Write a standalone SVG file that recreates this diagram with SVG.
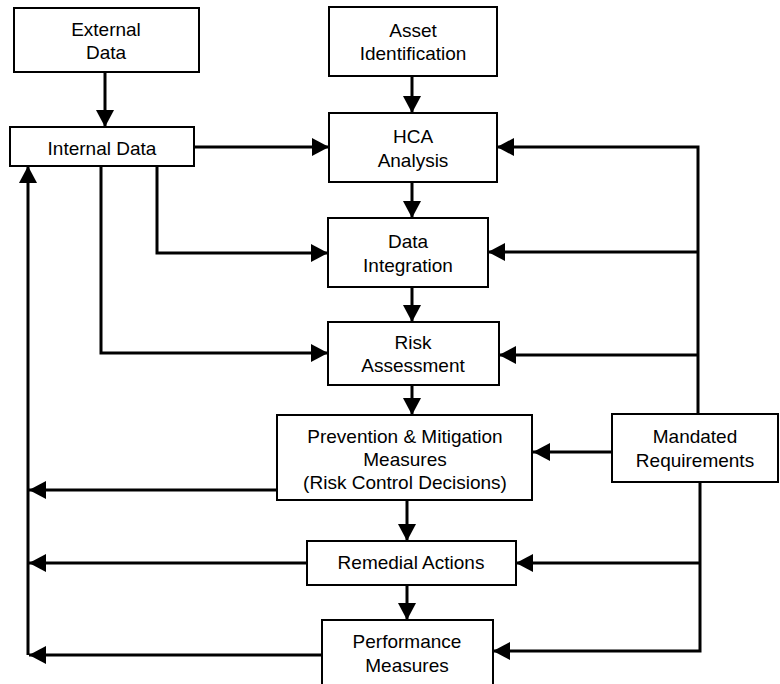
<svg xmlns="http://www.w3.org/2000/svg" width="780" height="684" viewBox="0 0 780 684">
<defs>
<marker id="ah" viewBox="0 0 17 18" refX="17" refY="9" markerWidth="17" markerHeight="18" markerUnits="userSpaceOnUse" orient="auto">
<path d="M0,0 L17,9 L0,18 z" fill="#000"/>
</marker>
<style>
.box{fill:#fff;stroke:#000;stroke-width:2}
.t{font-family:"Liberation Sans",Arial,sans-serif;font-size:19px;fill:#000;text-anchor:middle}
.c{fill:none;stroke:#000;stroke-width:3}
.a{marker-end:url(#ah)}
</style>
</defs>
<rect width="780" height="684" fill="#fff"/>
<g id="connectors">
<path class="c a" d="M105,72 V127"/>
<path class="c a" d="M412,76 V113"/>
<path class="c a" d="M194,147 H329"/>
<path class="c a" d="M412,182 V218"/>
<path class="c a" d="M412,287 V322"/>
<path class="c a" d="M412,385 V415"/>
<path class="c a" d="M407,500 V541"/>
<path class="c a" d="M407,585 V620"/>
<path class="c a" d="M157,166 V253 H328"/>
<path class="c a" d="M101,166 V353 H328"/>
<path class="c a" d="M698,414 V147 H497"/>
<path class="c a" d="M698,252 H488"/>
<path class="c a" d="M698,355 H499"/>
<path class="c a" d="M612,452 H533"/>
<path class="c a" d="M700,482 V651 H493"/>
<path class="c a" d="M700,563 H516"/>
<path class="c a" d="M277,490 H29"/>
<path class="c a" d="M307,563 H29"/>
<path class="c a" d="M322,655 H29"/>
<path class="c a" d="M28,655 V166"/>
</g>
<g id="external-data">
<rect class="box" x="14" y="8" width="185" height="64"/>
<text class="t" x="106" y="36">External</text>
<text class="t" x="106" y="59">Data</text>
</g>
<g id="internal-data">
<rect class="box" x="10" y="127" width="184" height="39"/>
<text class="t" x="102" y="155">Internal Data</text>
</g>
<g id="asset-identification">
<rect class="box" x="329" y="7" width="168" height="69"/>
<text class="t" x="413" y="37">Asset</text>
<text class="t" x="413" y="60">Identification</text>
</g>
<g id="hca-analysis">
<rect class="box" x="329" y="113" width="168" height="69"/>
<text class="t" x="413" y="143">HCA</text>
<text class="t" x="413" y="167">Analysis</text>
</g>
<g id="data-integration">
<rect class="box" x="328" y="218" width="160" height="69"/>
<text class="t" x="408" y="248">Data</text>
<text class="t" x="408" y="272">Integration</text>
</g>
<g id="risk-assessment">
<rect class="box" x="328" y="322" width="171" height="63"/>
<text class="t" x="413" y="349">Risk</text>
<text class="t" x="413" y="372">Assessment</text>
</g>
<g id="prevention-mitigation">
<rect class="box" x="277" y="415" width="255" height="85"/>
<text class="t" x="405" y="443">Prevention &amp; Mitigation</text>
<text class="t" x="405" y="466">Measures</text>
<text class="t" x="405" y="489">(Risk Control Decisions)</text>
</g>
<g id="mandated-requirements">
<rect class="box" x="612" y="414" width="166" height="68"/>
<text class="t" x="695" y="443">Mandated</text>
<text class="t" x="695" y="467">Requirements</text>
</g>
<g id="remedial-actions">
<rect class="box" x="307" y="541" width="209" height="44"/>
<text class="t" x="411" y="569">Remedial Actions</text>
</g>
<g id="performance-measures">
<rect class="box" x="322" y="620" width="171" height="80"/>
<text class="t" x="407" y="648">Performance</text>
<text class="t" x="407" y="672">Measures</text>
</g>
</svg>
